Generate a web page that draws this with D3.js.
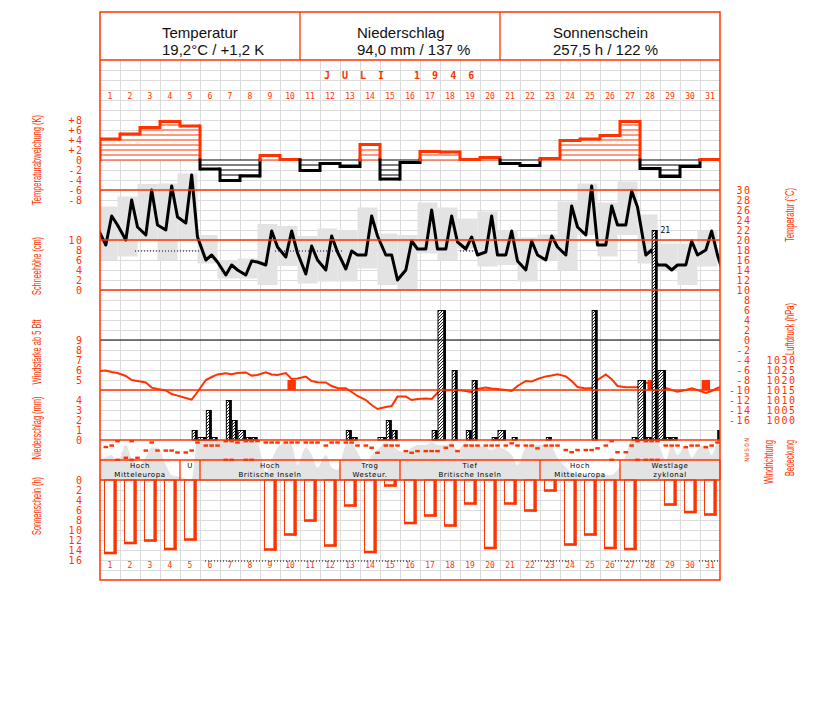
<!DOCTYPE html>
<html><head><meta charset="utf-8">
<script src="https://cdn.jsdelivr.net/npm/d3@7"></script>
<style>body{margin:0;background:#fff}</style>
</head><body>
<svg id="c" width="827" height="702"></svg>
<script>
// ---------------- DATA ----------------
const days = d3.range(1, 32);
const headerTitles = ["Temperatur", "Niederschlag", "Sonnenschein"];
const headerValues = ["19,2°C / +1,2 K", "94,0 mm / 137 %", "257,5 h / 122 %"];
const monthTitle = "JULI 1946";
const obsHours = [7, 14, 21];

// daily temperature deviation (K)
const tempDeviation = [4.2,5.2,6.5,7.7,6.8,-1.8,-4.1,-3.2,0.9,0.1,-2.1,-0.7,-1.3,3.1,-3.8,-0.5,1.7,1.6,0.1,0.5,-0.7,-1.1,0.3,3.9,4.2,4.9,7.7,-1.7,-3.3,-1.3,0.1];

// temperature at 7h,14h,21h (°C)
const temp3 = [[19,24.8,23],[20,28,22.6],[21,30,23],[22,30.8,24.6],[23.4,33,20.6],[16,17,15.6],[13,15,14],[13,15.8,15.6],[15,21.8,18.6],[16.6,21.8,17.4],[13.2,18.8,16],[14,20.8,17.6],[14.2,17.8,17],[17,24.8,20.8],[17,17,12],[14,19.8,18.2],[18.2,26,18.2],[18.2,24.8,19.6],[18.2,20.6,17],[17.6,24.8,17],[17,21.8,15.8],[14,19.8,17],[16,20.8,18.6],[17,26.8,22.6],[21,30.8,19],[19,26.8,23],[23,29.8,26.6],[17,18,15],[15,14,15],[15,19.8,17],[18,21.8,17]];
const tempPrev = 22.4, tempNext = 11.7;

// daily max / min (grey boxes)
const tMax = [26.7,28.7,31.2,31.3,33.3,21,16,16.3,23.2,22.8,20.8,22.3,22,26.5,21.3,21,27.5,26.5,24.3,25.7,22,20.5,21.1,27.7,31.3,27.5,31.7,25.1,19.3,19.3,21.9];
const tMin = [16,16.7,20,16,20,15.3,12.3,12.3,11,14.8,11.3,11.7,11.7,14.3,11,10,17.3,16,18.3,14.7,15,11.7,16,14,21,16.7,21,15.3,14,11,14.7];

// pressure at 7h,14h,21h (hPa)
const pressure3 = [[1024.7,1024,1023.5],[1022,1020,1019.5],[1018.8,1016.2,1015.5],[1014.8,1013,1012.2],[1011,1010.2,1014],[1020,1021.5,1022.8],[1023.4,1022.9,1023.5],[1023.8,1022.2,1022.5],[1023.9,1022.8,1022.5],[1023.5,1020.5,1020.8],[1021.7,1019.5,1018.9],[1018.8,1017,1016],[1015.9,1014,1012],[1010,1007.5,1005.5],[1006.5,1007,1011.7],[1011.7,1010,1010.5],[1010.8,1010.5,1013.5],[1014.8,1015,1015],[1014.5,1013.9,1015.5],[1016.2,1015.8,1015.5],[1015,1014.5,1017],[1019.5,1019.2,1020.5],[1021.8,1022.3,1022.9],[1021.8,1019.5,1016.5],[1015.8,1016,1020],[1022.8,1020.4,1017],[1016.4,1016.4,1016.4],[1018.7,1017.8,1017],[1016,1015,1014.2],[1015,1015.8,1015],[1013.5,1014.5,1016]];
const pressPrev = 1024.5, pressNext = 1017;

// precipitation per interval: [day, slot (0:7-14h,1:14-21h,2:21-7h), mm]
const precipIntervals = [[5,1,1.0],[5,2,0.3],[6,0,3.0],[6,1,0.3],[7,0,4.0],[7,1,2.0],[7,2,1.0],[8,0,0.3],[8,1,0.3],[13,0,1.0],[13,1,0.3],[14,2,0.3],[15,0,2.0],[15,1,1.0],[17,1,1.0],[17,2,13.0],[18,1,7.0],[19,0,1.0],[19,1,6.0],[20,1,0.3],[20,2,1.0],[21,1,0.3],[23,0,0.3],[25,1,13.0],[27,1,0.3],[27,2,6.0],[28,0,0.3],[28,1,21.0],[28,2,7.0],[29,0,0.3],[29,1,0.3],[31,2,1.0]];

// wind force >= 5 Bft: [day, hour, Bft]
const windStrong = [[10,14,5],[28,14,5],[31,7,5]];

// cloud cover (octas) at 7h,14h,21h
const cloud3 = [[4.5,5,3.5],[7,4.3,2.7],[4.5,6.5,6.5],[3,1,0.7],[0.3,0,8],[8,8,8],[8,8,8],[8,8,7.5],[1.5,4,6.5],[7.5,7,3],[6.5,5,2.5],[5,2.5,2],[7,7.5,5.5],[3,5,6],[7.5,7,6],[5.5,6.5,7],[7,7.5,7],[7,7.5,6],[7.5,7,7],[6.5,6,6.5],[6,5,3],[6.5,7,7],[7,6.5,4.5],[2.5,1.5,1],[1,0.5,1.5],[1,1,2],[5,8,8],[8,8,7.5],[4,7,5],[7,4.5,6],[7,5,7.5]];
const cloudPrev = 4, cloudNext = 8;

// wind direction (degrees) at 7h,14h,21h
const windDir3 = [[126,100,360],[320,360,320],[190,45,190],[190,190,225],[225,190,45],[100,100,100],[360,360,45],[360,360,20],[45,45,45],[45,45,45],[45,45,45],[100,45,45],[45,45,100],[100,140,230],[100,100,100],[200,230,200],[200,200,200],[140,100,200],[100,100,100],[100,100,100],[100,60,100],[100,100,150],[100,100,100],[180,220,180],[180,180,150],[100,360,220],[220,100,360],[360,360,360],[100,100,100],[130,100,100],[130,100,45]];

// sunshine (h)
const sunshine = [14.6,12.6,12.1,13.8,11.9,0,0,0,13.9,10.9,8.1,13.1,5.1,14.4,1.1,8.6,7.1,9.1,4.7,13.6,4.7,6.1,2.1,12.9,10.9,13.6,13.8,0,4.9,6.4,6.9];

// weather types: [firstDay, lastDay, line1, line2]
const weatherTypes = [[1,4,"Hoch","Mitteleuropa"],[5,5,"U",""],[6,12,"Hoch","Britische Inseln"],[13,15,"Trog","Westeur."],[16,22,"Tief","Britische Inseln"],[23,26,"Hoch","Mitteleuropa"],[27,31,"Westlage","zyklonal"]];

// dotted marker segments (day units from start of month)
const tempDotted = [[1.75,5.0],[8.75,12.15],[18.0,18.75]];
const tempDottedLevel = 17.8;
const sunDotted = [[5.25,15.5],[21.6,23.6],[25.75,27.8],[29.95,31]];
const sunDottedLevel = 16.2;

const devTicks = [8,6,4,2,0,-2,-4,-6,-8];
const snowTicks = [10,8,6,4,2,0];
const windTicks = [9,8,7,6,5];
const precipTicks = [4,3,2,1,0];
const sunTicks = [0,2,4,6,8,10,12,14,16];
const tempTicks = d3.range(-16, 31, 2);
const pressTicks = [1000,1005,1010,1015,1020,1025,1030];
const compass = ["N","O","S","W","N"];

// ---------------- LAYOUT ----------------
const RED = "#ff3300", GRID = "#dcdcdc", GREY = "#e3e3e3";
const L = 100, R = 720, T = 12, B = 580;
const svg = d3.select("#c");
svg.append("rect").attr("width",827).attr("height",702).attr("fill","#fff");
const defs = svg.append("defs");
defs.append("clipPath").attr("id","plot").append("rect").attr("x",L).attr("y",T).attr("width",R-L).attr("height",B-T);
const pat = defs.append("pattern").attr("id","hatch").attr("patternUnits","userSpaceOnUse").attr("width",3).attr("height",3);
pat.append("rect").attr("width",3).attr("height",3).attr("fill","#fff");
pat.append("path").attr("d","M-1,1 L1,-1 M0,3 L3,0 M2,4 L4,2").attr("stroke","#000").attr("stroke-width",0.9);

const x = d3.scaleLinear().domain([0,31]).range([L,R]);
const xBand = d3.scaleBand().domain(days).range([L,R]);
const tOf = (d,h) => (d-1) + h/24;
const yDev = d3.scaleLinear().domain([-8,8]).range([200,120]);
const yTemp = d3.scaleLinear().domain([-16,30]).range([420,190]);
const ySnow = d3.scaleLinear().domain([0,10]).range([290,240]);
const yWind = d3.scaleLinear().domain([5,9]).range([380,340]);
const yPrecip = d3.scaleLinear().domain([0,4]).range([440,400]);
const yPress = d3.scaleLinear().domain([1000,1030]).range([420,360]);
const yCloud = d3.scaleLinear().domain([0,8]).range([480,440]);
const yDir = d3.scaleLinear().domain([0,360]).range([440,460]);
const ySun = d3.scaleLinear().domain([0,16]).range([480,560]);

// grid
const grid = svg.append("g").attr("stroke",GRID).attr("stroke-width",1);
grid.selectAll("line.h").data(d3.range(70,580,10)).join("line")
  .attr("x1",L).attr("x2",R).attr("y1",d=>d+0.5).attr("y2",d=>d+0.5);
grid.selectAll("line.v").data(d3.range(1,31)).join("line")
  .attr("x1",d=>x(d)+0.5).attr("x2",d=>x(d)+0.5).attr("y1",60).attr("y2",B);

const plot = svg.append("g").attr("clip-path","url(#plot)");

// temperature grey boxes (21h to 21h)
plot.append("g").selectAll("rect").data(days).join("rect")
  .attr("x",d=>x(tOf(d,-3))).attr("width",x(1)-x(0))
  .attr("y",(d,i)=>yTemp(tMax[i])).attr("height",(d,i)=>yTemp(tMin[i])-yTemp(tMax[i]))
  .attr("fill",GREY);

// wind direction / cloud strip
plot.append("rect").attr("x",L).attr("y",440).attr("width",R-L).attr("height",40).attr("fill","#fff");
const cloudPts = [[tOf(1,-3),cloudPrev]];
days.forEach((d,i)=>obsHours.forEach((h,j)=>cloudPts.push([tOf(d,h),cloud3[i][j]])));
cloudPts.push([tOf(32,7),cloudNext]);
plot.append("path").datum(cloudPts)
  .attr("d",d3.area().x(p=>x(p[0])).y0(480).y1(p=>yCloud(p[1])).curve(d3.curveMonotoneX))
  .attr("fill",GREY);

// temperature deviation steps
const devG = plot.append("g");
tempDeviation.forEach((v,i)=>{
  const col = v>=0 ? RED : "#000";
  const x0 = x(i), x1 = x(i+1);
  devG.append("rect").attr("x",x0).attr("width",x1-x0)
    .attr("y",Math.min(yDev(v),yDev(0))).attr("height",Math.abs(yDev(v)-yDev(0))).attr("fill","#fff");
  const n = Math.floor(Math.abs(v));
  d3.range(0,n+1).forEach(k=>{
    const yy = yDev(Math.sign(v||1)*k);
    devG.append("line").attr("x1",x0).attr("x2",x1).attr("y1",yy).attr("y2",yy).attr("stroke",col).attr("stroke-width",1);
  });
  devG.append("line").attr("x1",x0).attr("x2",x1).attr("y1",yDev(v)).attr("y2",yDev(v)).attr("stroke",col).attr("stroke-width",3);
});
d3.range(0,32).forEach(i=>{
  const a = i===0 ? 0 : tempDeviation[i-1];
  const b = i===31 ? 0 : tempDeviation[i];
  const xx = x(i);
  const seg = (v1,v2,col)=>devG.append("line").attr("x1",xx).attr("x2",xx)
    .attr("y1",yDev(v1)).attr("y2",yDev(v2)).attr("stroke",col).attr("stroke-width",3).attr("stroke-linecap","square");
  if ((a>=0)===(b>=0)) seg(a,b,(a>=0?RED:"#000"));
  else { seg(a,0,a>=0?RED:"#000"); seg(0,b,b>=0?RED:"#000"); }
});

// section lines
const redLines = [60,190,240,290,390,440,460,480];
svg.append("g").selectAll("line").data(redLines).join("line")
  .attr("x1",L).attr("x2",R).attr("y1",d=>d).attr("y2",d=>d).attr("stroke",RED).attr("stroke-width",1.3);
svg.append("line").attr("x1",L).attr("x2",R).attr("y1",yTemp(0)).attr("y2",yTemp(0)).attr("stroke","#000").attr("stroke-width",1.2);

// dotted markers
plot.append("g").selectAll("line").data(tempDotted).join("line")
  .attr("x1",d=>x(d[0])).attr("x2",d=>x(d[1])).attr("y1",yTemp(tempDottedLevel)).attr("y2",yTemp(tempDottedLevel))
  .attr("stroke","#000").attr("stroke-width",1).attr("stroke-dasharray","1,2");
plot.append("g").selectAll("line").data(sunDotted).join("line")
  .attr("x1",d=>x(d[0])).attr("x2",d=>x(d[1])).attr("y1",ySun(sunDottedLevel)).attr("y2",ySun(sunDottedLevel))
  .attr("stroke","#000").attr("stroke-width",1).attr("stroke-dasharray","1,2");

// pressure line
const pressPts = [[tOf(1,-3),pressPrev]];
days.forEach((d,i)=>obsHours.forEach((h,j)=>pressPts.push([tOf(d,h),pressure3[i][j]])));
pressPts.push([tOf(32,7),pressNext]);
plot.append("path").datum(pressPts)
  .attr("d",d3.line().x(p=>x(p[0])).y(p=>yPress(p[1])))
  .attr("fill","none").attr("stroke",RED).attr("stroke-width",2);

// wind >= 5 Bft bars
plot.append("g").selectAll("rect").data(windStrong).join("rect")
  .attr("x",d=>x(tOf(d[0],d[1]))-4.2).attr("width",8.4)
  .attr("y",d=>yWind(d[2])).attr("height",d=>yWind(d[2]-1)-yWind(d[2]))
  .attr("fill",RED);

// temperature line
const tempPts = [[tOf(1,-3),tempPrev]];
days.forEach((d,i)=>obsHours.forEach((h,j)=>tempPts.push([tOf(d,h),temp3[i][j]])));
tempPts.push([tOf(32,7),tempNext]);
plot.append("path").datum(tempPts)
  .attr("d",d3.line().x(p=>x(p[0])).y(p=>yTemp(p[1])))
  .attr("fill","none").attr("stroke","#000").attr("stroke-width",3).attr("stroke-linejoin","round");

// precipitation bars
const slotStart = (d,s)=>tOf(d,obsHours[s]);
const slotEnd = (d,s)=> s<2 ? tOf(d,obsHours[s+1]) : tOf(d+1,obsHours[0]);
const pg = plot.append("g");
precipIntervals.forEach(([d,s,mm])=>{
  const x1 = x(slotStart(d,s)), x2 = Math.min(x(slotEnd(d,s)),R);
  const yy = yPrecip(mm);
  pg.append("rect").attr("x",x1+0.5).attr("y",yy+0.5).attr("width",Math.max(x2-x1-1,0.5)).attr("height",440-yy-0.5)
    .attr("fill","url(#hatch)").attr("stroke","#000").attr("stroke-width",1);
  pg.append("rect").attr("x",x2-2.6).attr("y",yy).attr("width",2.6).attr("height",440-yy).attr("fill","#000");
  if (mm > 15) pg.append("text").attr("x",x2+3).attr("y",yy+3).text(String(mm))
    .attr("font-family","DejaVu Sans Mono").attr("font-size",8).attr("fill","#000");
});

// sunshine bars
const sg = plot.append("g");
sunshine.forEach((v,i)=>{
  if (v<=0) return;
  const x0 = x(i);
  const yb = ySun(v);
  sg.append("rect").attr("x",x0+4.5).attr("y",480).attr("width",11.5).attr("height",yb-480)
    .attr("fill","#fff").attr("stroke",RED).attr("stroke-width",1);
  sg.append("rect").attr("x",x0+13.4).attr("y",480).attr("width",3.2).attr("height",yb-480+1).attr("fill",RED);
  sg.append("rect").attr("x",x0+4).attr("y",yb-1.3).attr("width",12.6).attr("height",2.6).attr("fill",RED);
});

// wind direction dots
const dirPts = [];
days.forEach((d,i)=>obsHours.forEach((h,j)=>{
  const dir = windDir3[i][j];
  if (dir%360===0){ dirPts.push([tOf(d,h),0]); dirPts.push([tOf(d,h),360]); }
  else dirPts.push([tOf(d,h),dir]);
}));
plot.append("g").selectAll("rect").data(dirPts).join("rect")
  .attr("x",p=>x(p[0])-2.3).attr("width",4.6)
  .attr("y",p=>p[1]===0 ? 440 : p[1]===360 ? 458.6 : yDir(p[1])-1.2).attr("height",2.4)
  .attr("fill",RED);

// weather types
const wg = svg.append("g");
weatherTypes.forEach(([a,b,l1,l2])=>{
  const xa = x(a-1), xb = x(b);
  wg.append("line").attr("x1",xb).attr("x2",xb).attr("y1",460).attr("y2",480).attr("stroke",RED).attr("stroke-width",1.3);
  const cx = (xa+xb)/2;
  wg.append("text").attr("x",cx).attr("y",468).attr("text-anchor","middle").text(l1)
    .attr("font-family","DejaVu Sans").attr("font-size",7).attr("letter-spacing",0.6).attr("fill","#000");
  if (l2) wg.append("text").attr("x",cx).attr("y",477).attr("text-anchor","middle").text(l2)
    .attr("font-family","DejaVu Sans").attr("font-size",7).attr("letter-spacing",0.6).attr("fill","#000");
});

// header
const hg = svg.append("g");
const colX = [100,300,500,720];
const textOff = [62,57,53];
headerTitles.forEach((t,i)=>{
  hg.append("text").attr("x",colX[i]+textOff[i]).attr("y",38).text(t)
    .attr("font-family","Liberation Sans, Arial, sans-serif").attr("font-size",15).attr("fill","#111");
  hg.append("text").attr("x",colX[i]+textOff[i]).attr("y",54.5).text(headerValues[i])
    .attr("font-family","Liberation Sans, Arial, sans-serif").attr("font-size",15).attr("fill","#111");
});
[300,500].forEach(v=>hg.append("line").attr("x1",v).attr("x2",v).attr("y1",T).attr("y2",60).attr("stroke",RED).attr("stroke-width",1.3));
svg.append("rect").attr("x",L).attr("y",T).attr("width",R-L).attr("height",B-T)
  .attr("fill","none").attr("stroke",RED).attr("stroke-width",1.5);

// month title
svg.append("text").attr("x",324).attr("y",79).text(monthTitle)
  .attr("font-family","DejaVu Sans Mono").attr("font-weight","bold").attr("font-size",10)
  .attr("letter-spacing",12).attr("fill",RED);

// day numbers (top and bottom)
function dayAxis(yPos){
  const g = svg.append("g").attr("transform",`translate(0,${yPos})`)
    .call(d3.axisBottom(xBand).tickSize(0).tickPadding(0));
  g.select(".domain").remove();
  g.selectAll("text").attr("dy","0.32em").attr("fill",RED)
    .attr("font-family","DejaVu Sans Mono").attr("font-size",8);
}
dayAxis(96); dayAxis(565.5);

// value axes
const hy = v => v<0 ? "-"+(-v) : String(v);
function valueAxis(scale, ticks, xPos, fmt){
  const g = svg.append("g").attr("transform",`translate(${xPos},0)`)
    .call(d3.axisLeft(scale).tickValues(ticks).tickSize(0).tickPadding(0).tickFormat(fmt||hy));
  g.select(".domain").remove();
  g.selectAll("text").attr("fill",RED).attr("font-family","DejaVu Sans Mono")
    .attr("font-size",10).attr("letter-spacing",1.5);
}
valueAxis(yDev, devTicks, 83.5, v=> v>0 ? "+"+v : hy(v));
valueAxis(ySnow, snowTicks, 83.5);
valueAxis(yWind, windTicks, 83.5);
valueAxis(yPrecip, precipTicks, 83.5);
valueAxis(ySun, sunTicks, 83.5);
valueAxis(yTemp, tempTicks, 751.5);
valueAxis(yPress, pressTicks, 796.5);

// rotated axis titles
function vLabel(txt, cx, cy, len){
  svg.append("text").attr("transform",`translate(${cx},${cy}) rotate(-90)`)
    .attr("text-anchor","middle").attr("dy","0.35em").text(txt)
    .attr("font-family","Liberation Sans, Arial, sans-serif").attr("font-size",12)
    .attr("textLength",len).attr("lengthAdjust","spacingAndGlyphs").attr("fill",RED);
}
vLabel("Temperaturabweichung (K)", 37, 160, 90);
vLabel("Schneehöhe (cm)", 37, 266, 58);
vLabel("Windstärke ab 5 Bft", 37, 352, 65);
vLabel("Niederschlag (mm)", 37, 428, 63);
vLabel("Sonnenschein (h)", 37, 506, 58);
vLabel("Temperatur (°C)", 790, 215, 54);
vLabel("Luftdruck (hPa)", 790, 329, 52);
vLabel("Windrichtung", 769, 462, 44);
vLabel("Bedeckung", 790, 458, 36);

// compass letters
svg.append("g").selectAll("text").data(compass).join("text")
  .attr("transform",(d,i)=>`translate(747,${yDir(i*90)}) rotate(-90)`)
  .attr("text-anchor","middle").attr("dy","0.35em").text(d=>d)
  .attr("font-family","DejaVu Sans Mono").attr("font-size",6).attr("fill",RED);
</script>
</body></html>
